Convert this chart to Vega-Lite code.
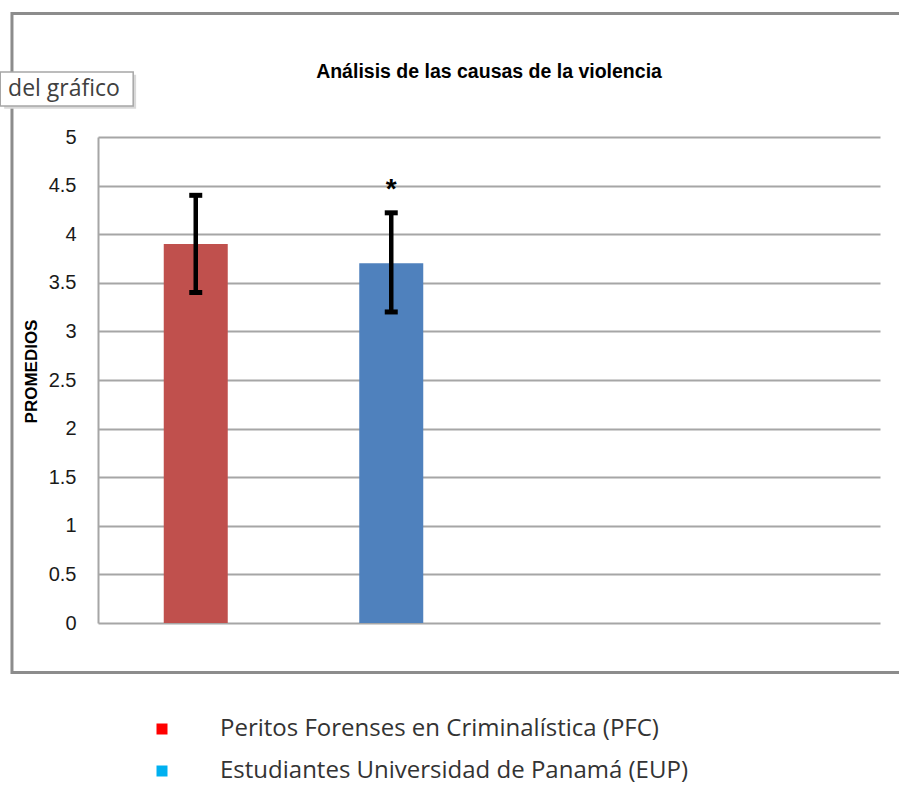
{
  "$schema": "https://vega.github.io/schema/vega-lite/v6.json",
  "width": 782,
  "height": 486,
  "autosize": {"type": "none"},
  "padding": {"left": 98, "top": 137, "right": 19, "bottom": 164},
  "background": "white",
  "title": {
    "text": "Análisis de las causas de la violencia",
    "font": "Liberation Sans",
    "fontSize": 19.5,
    "fontWeight": "bold",
    "color": "#000000",
    "anchor": "middle",
    "offset": -70
  },
  "config": {"view": {"stroke": null}},
  "data": {
    "values": [
      {"grupo": "Peritos Forenses en Criminalística (PFC)", "pos": 1, "promedio": 3.9, "lower": 3.4, "upper": 4.4, "sig": ""},
      {"grupo": "Estudiantes Universidad de Panamá (EUP)", "pos": 2, "promedio": 3.7, "lower": 3.2, "upper": 4.22, "sig": "*"}
    ]
  },
  "layer": [
    {
      "data": {"values": [{}]},
      "mark": {"type": "rect", "fillOpacity": 0, "stroke": "#8c8c8c", "strokeWidth": 3},
      "encoding": {
        "x": {"datum": 0.06, "type": "quantitative", "scale": {"domain": [0.5, 4.5], "nice": false, "zero": false, "padding": 0}, "axis": null},
        "x2": {"datum": 4.7},
        "y": {"datum": 6.27, "type": "quantitative", "scale": {"domain": [0, 5], "nice": false, "padding": 0}, "title": "PROMEDIOS"},
        "y2": {"datum": -0.51}
      }
    },
    {
      "data": {"values": [{}]},
      "mark": {"type": "rect", "fill": "#d9d9d9", "strokeWidth": 0},
      "encoding": {
        "x": {"datum": 0.02, "type": "quantitative", "axis": null},
        "x2": {"datum": 0.695},
        "y": {"datum": 5.64, "type": "quantitative", "title": "PROMEDIOS"},
        "y2": {"datum": 5.29}
      }
    },
    {
      "data": {"values": [{}]},
      "mark": {"type": "rect", "fill": "white", "stroke": "#a6a6a6", "strokeWidth": 1.5},
      "encoding": {
        "x": {"datum": 0.0, "type": "quantitative", "axis": null},
        "x2": {"datum": 0.68},
        "y": {"datum": 5.67, "type": "quantitative", "title": "PROMEDIOS"},
        "y2": {"datum": 5.32}
      }
    },
    {
      "data": {"values": [{"t": "del gráfico"}]},
      "mark": {"type": "text", "font": "Open Sans", "fontSize": 23, "color": "#404040", "align": "left", "baseline": "middle"},
      "encoding": {
        "x": {"datum": 0.04, "type": "quantitative", "axis": null},
        "y": {"datum": 5.49, "type": "quantitative", "title": "PROMEDIOS"},
        "text": {"field": "t"}
      }
    },
    {
      "mark": {"type": "bar", "size": 64},
      "encoding": {
        "x": {"field": "pos", "type": "quantitative", "axis": null},
        "y": {
          "field": "promedio",
          "type": "quantitative",
          "title": "PROMEDIOS",
          "axis": {
            "values": [0, 0.5, 1, 1.5, 2, 2.5, 3, 3.5, 4, 4.5, 5],
            "format": ".1~f",
            "grid": true,
            "gridColor": "#a6a6a6",
            "gridWidth": 2,
            "domainColor": "#a6a6a6",
            "domainWidth": 2,
            "ticks": false,
            "labelFont": "Liberation Sans",
            "labelFontSize": 20,
            "labelColor": "#1a1a1a",
            "labelPadding": 22,
            "titleFont": "Liberation Sans",
            "titleFontSize": 17,
            "titleFontWeight": "bold",
            "titleColor": "#000000",
            "titlePadding": 8,
            "titleY": 234
          }
        },
        "fill": {
          "field": "grupo",
          "type": "nominal",
          "scale": {"range": ["#4f81bd", "#c0504d"]},
          "legend": null
        }
      }
    },
    {
      "mark": {"type": "point", "shape": "square", "filled": true, "opacity": 0, "size": 1},
      "encoding": {
        "x": {"field": "pos", "type": "quantitative", "axis": null},
        "y": {"field": "promedio", "type": "quantitative", "title": "PROMEDIOS"},
        "color": {
          "field": "grupo",
          "type": "nominal",
          "scale": {
            "domain": ["Peritos Forenses en Criminalística (PFC)", "Estudiantes Universidad de Panamá (EUP)"],
            "range": ["#ff0000", "#00b0f0"]
          },
          "legend": {
            "orient": "none",
            "legendX": 52,
            "legendY": 580,
            "title": null,
            "symbolType": "square",
            "symbolSize": 121,
            "symbolOpacity": 1,
            "symbolStrokeWidth": 0,
            "labelFont": "Open Sans",
            "labelFontSize": 24,
            "labelColor": "#333333",
            "labelOffset": 46,
            "labelLimit": 700,
            "rowPadding": 18
          }
        }
      }
    },
    {
      "mark": {"type": "rule", "strokeWidth": 4.5, "color": "black"},
      "encoding": {
        "x": {"field": "pos", "type": "quantitative", "axis": null},
        "y": {"field": "lower", "type": "quantitative", "title": "PROMEDIOS"},
        "y2": {"field": "upper"}
      }
    },
    {
      "mark": {"type": "tick", "orient": "horizontal", "size": 13, "thickness": 5, "color": "black", "opacity": 1},
      "encoding": {
        "x": {"field": "pos", "type": "quantitative", "axis": null},
        "y": {"field": "upper", "type": "quantitative", "title": "PROMEDIOS"}
      }
    },
    {
      "mark": {"type": "tick", "orient": "horizontal", "size": 13, "thickness": 5, "color": "black", "opacity": 1},
      "encoding": {
        "x": {"field": "pos", "type": "quantitative", "axis": null},
        "y": {"field": "lower", "type": "quantitative", "title": "PROMEDIOS"}
      }
    },
    {
      "mark": {"type": "text", "font": "Liberation Sans", "fontSize": 28, "fontWeight": "bold", "color": "black", "baseline": "alphabetic", "dy": -15},
      "encoding": {
        "x": {"field": "pos", "type": "quantitative", "axis": null},
        "y": {"field": "upper", "type": "quantitative", "title": "PROMEDIOS"},
        "text": {"field": "sig"}
      }
    }
  ]
}
